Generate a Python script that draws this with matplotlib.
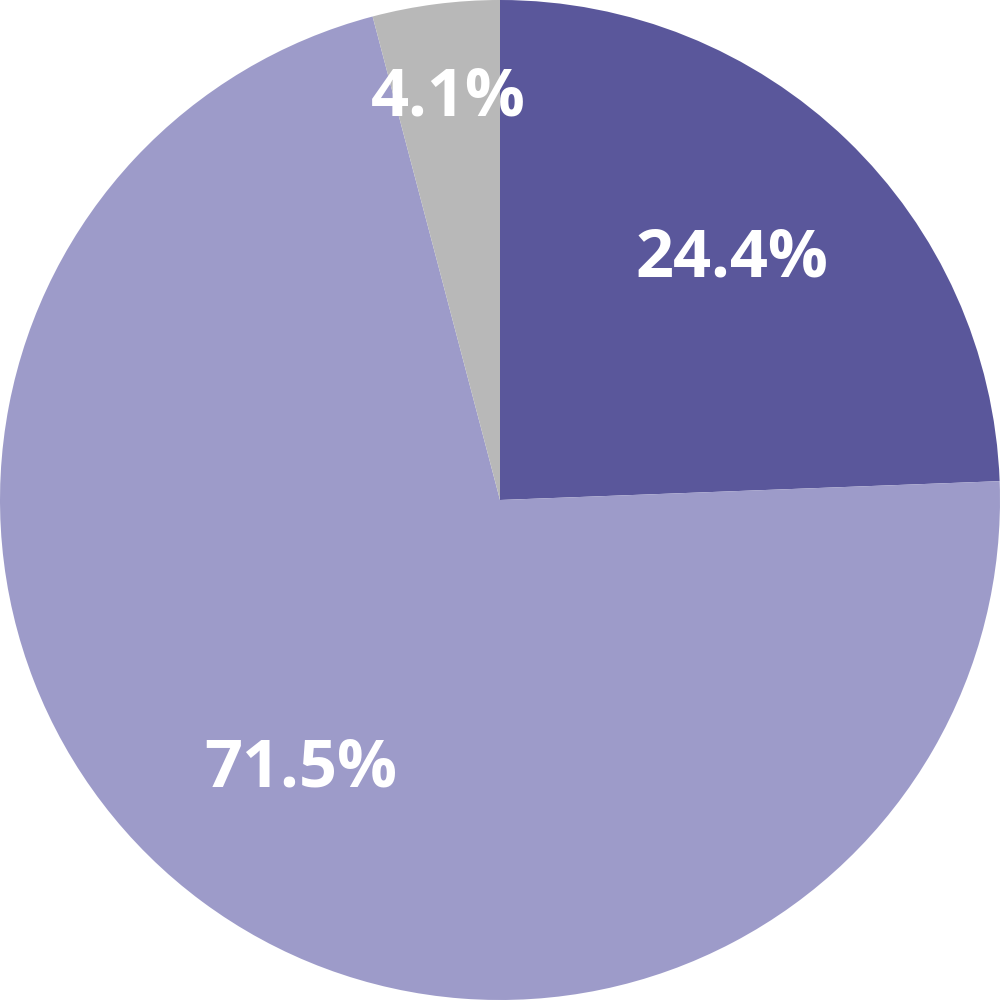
import matplotlib
matplotlib.use("Agg")
import matplotlib.pyplot as plt
import numpy as np

# slice values (percent), clockwise from 12 o'clock
labels = ["24.4%", "71.5%", "4.1%"]
values = [24.4, 71.5, 4.1]
colors = ["#5a579b", "#9d9bc9", "#b8b8b8"]
label_dist = [0.67, 0.67, 0.81]

fig = plt.figure(figsize=(10, 10), dpi=100)
ax = fig.add_axes([0, 0, 1, 1])

wedges, _ = ax.pie(values, colors=colors, startangle=90, counterclock=False,
                   radius=1.0, wedgeprops=dict(linewidth=0))

for w, lab, d in zip(wedges, labels, label_dist):
    ang = np.deg2rad((w.theta1 + w.theta2) / 2)
    ax.text(d * np.cos(ang), d * np.sin(ang), lab, ha="center", va="center",
            color="white", fontsize=48, fontweight="bold", family="Open Sans")

ax.set_xlim(-1, 1)
ax.set_ylim(-1, 1)
ax.set_aspect("equal")
ax.axis("off")

fig.savefig("out.png", dpi=100)
